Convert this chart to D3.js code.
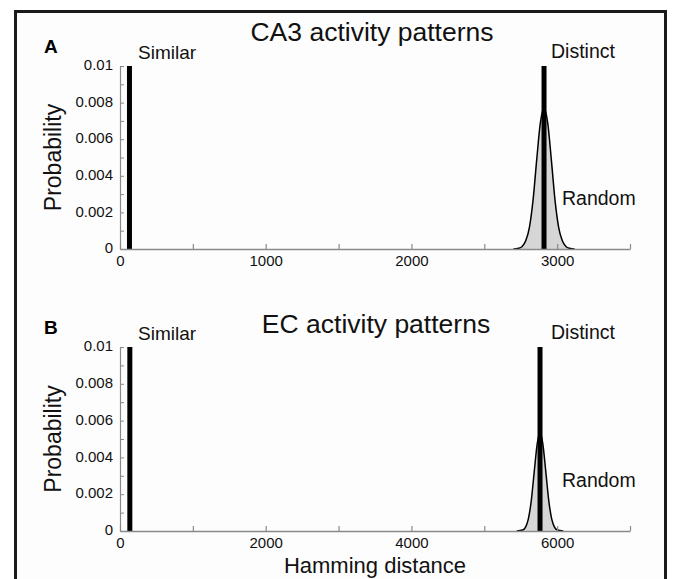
<!DOCTYPE html>
<html>
<head>
<meta charset="utf-8">
<script src="https://cdn.jsdelivr.net/npm/d3@7"></script>
<style>
  html, body { margin: 0; padding: 0; background: #fff; }
  svg { display: block; font-family: Arial, "Liberation Sans", sans-serif; }
</style>
</head>
<body>
<svg id="chart" width="673" height="579"></svg>
<script>
// panel titles and letters
const panelLetters = ["A", "B"]
const panelTitles = ["CA3 activity patterns", "EC activity patterns"]

// x domains and ticks
const xMax = [3500, 7000]
const xTicksA = [0, 500, 1000, 1500, 2000, 2500, 3000, 3500]
const xLabelsA = [0, 1000, 2000, 3000]
const xTicksB = [0, 1000, 2000, 3000, 4000, 5000, 6000, 7000]
const xLabelsB = [0, 2000, 4000, 6000]

// y ticks (same for both panels)
const yTicks = [0, 0.001, 0.002, 0.003, 0.004, 0.005, 0.006, 0.007, 0.008, 0.009, 0.01]
const yLabels = [0, 0.002, 0.004, 0.006, 0.008, 0.01]

// "Similar" and "Distinct" spikes (hamming distance, probability shown)
const similarX = [65, 135]
const distinctX = [2910, 5765]
const spikeTop = [0.01, 0.01]

// "Random" distributions
const ca3RandomX = [2700, 2735, 2760, 2785, 2810, 2835, 2860, 2885, 2910, 2935, 2960, 2985, 3010, 3035, 3060, 3085, 3120]
const ca3RandomP = [0, 0.00004, 0.00014, 0.00046, 0.0012, 0.0027, 0.0049, 0.0069, 0.0077, 0.0069, 0.0049, 0.0027, 0.0012, 0.00046, 0.00014, 0.00004, 0]
const ecRandomX = [5445, 5525, 5565, 5605, 5645, 5685, 5725, 5765, 5805, 5845, 5885, 5925, 5965, 6005, 6085]
const ecRandomP = [0, 0.00005, 0.0002, 0.00066, 0.00165, 0.0032, 0.0047, 0.0054, 0.0047, 0.0032, 0.00165, 0.00066, 0.0002, 0.00005, 0]

const svg = d3.select('#chart')
const axisColor = '#8a8a8a'
const fmtY = d => d === 0 ? '0' : String(+d.toFixed(3))

// outer frame
svg.append('rect')
	.attr('x', 15.5).attr('y', 11.5)
	.attr('width', 650).attr('height', 600)
	.attr('fill', '#fdfdfd')
	.attr('stroke', '#1a1a1a').attr('stroke-width', 3)

const panels = [
	{ top: 66, bottom: 249, ticks: xTicksA, labels: xLabelsA, randX: ca3RandomX, randP: ca3RandomP, titleY: 41, titleX: 372 },
	{ top: 347, bottom: 531, ticks: xTicksB, labels: xLabelsB, randX: ecRandomX, randP: ecRandomP, titleY: 333, titleX: 376 }
]

panels.forEach((p, i) => {
	const g = svg.append('g')
	const x = d3.scaleLinear().domain([0, xMax[i]]).range([120, 630])
	const y = d3.scaleLinear().domain([0, 0.01]).range([p.bottom, p.top])

	// random distribution (filled gaussian-like curve)
	const pts = p.randX.map((d, k) => [d, p.randP[k]])
	const area = d3.area().x(d => x(d[0])).y0(y(0)).y1(d => y(d[1])).curve(d3.curveMonotoneX)
	const line = d3.line().x(d => x(d[0])).y(d => y(d[1])).curve(d3.curveMonotoneX)
	g.append('path').attr('d', area(pts)).attr('fill', '#d6d6d6')

	// spikes
	;[similarX[i], distinctX[i]].forEach(v => {
		g.append('line')
			.attr('x1', x(v)).attr('x2', x(v))
			.attr('y1', y(0)).attr('y2', y(spikeTop[i]))
			.attr('stroke', '#000').attr('stroke-width', 5)
	})

	g.append('path').attr('d', line(pts)).attr('fill', 'none')
		.attr('stroke', '#000').attr('stroke-width', 1.5)

	// x axis, ticks pointing inward
	const xAxis = d3.axisBottom(x).tickValues(p.ticks).tickSizeInner(-5).tickSizeOuter(0)
		.tickFormat(d => p.labels.includes(d) ? d : '')
	const gx = g.append('g').attr('transform', `translate(0,${y(0)})`).call(xAxis)
	gx.select('.domain').attr('stroke', axisColor).attr('stroke-width', 1.5)
	gx.selectAll('.tick line').attr('stroke', axisColor).attr('stroke-width', 1.2)
	gx.selectAll('.tick text').attr('font-size', 15).attr('fill', '#111').attr('dy', '0.95em')

	// y axis, ticks pointing inward
	const yAxis = d3.axisLeft(y).tickValues(yTicks).tickSizeInner(-4).tickSizeOuter(0)
		.tickFormat(d => yLabels.some(v => Math.abs(v - d) < 1e-9) ? fmtY(d) : '')
	const gy = g.append('g').attr('transform', 'translate(120,0)').call(yAxis)
	gy.select('.domain').attr('stroke', axisColor).attr('stroke-width', 1.2)
	gy.selectAll('.tick line').attr('stroke', axisColor).attr('stroke-width', 1)
	gy.selectAll('.tick text').attr('font-size', 15).attr('fill', '#111').attr('x', -7).attr('dy', '0.25em')

	// y label
	g.append('text')
		.attr('transform', `translate(61,${(p.top + p.bottom) / 2}) rotate(-90)`)
		.attr('text-anchor', 'middle')
		.attr('font-size', 23).attr('fill', '#111')
		.text('Probability')

	// panel letter and title
	g.append('text').attr('x', 44).attr('y', p.top - 13)
		.attr('font-size', 19).attr('font-weight', 900).attr('fill', '#000')
		.text(panelLetters[i])
	g.append('text').attr('x', p.titleX).attr('y', p.titleY)
		.attr('text-anchor', 'middle').attr('font-size', 26.5).attr('fill', '#111')
		.text(panelTitles[i])

	// annotations
	g.append('text').attr('x', 138).attr('y', p.top - 7)
		.attr('font-size', 19).attr('fill', '#111').text('Similar')
	g.append('text').attr('x', 551).attr('y', p.top - 8)
		.attr('font-size', 19.5).attr('fill', '#111').text('Distinct')
	g.append('text').attr('x', 562).attr('y', y(0.0024))
		.attr('font-size', 19.5).attr('fill', '#111').text('Random')
})

// shared x label
svg.append('text').attr('x', 375).attr('y', 573)
	.attr('text-anchor', 'middle').attr('font-size', 22).attr('fill', '#111')
	.text('Hamming distance')
</script>
</body>
</html>
